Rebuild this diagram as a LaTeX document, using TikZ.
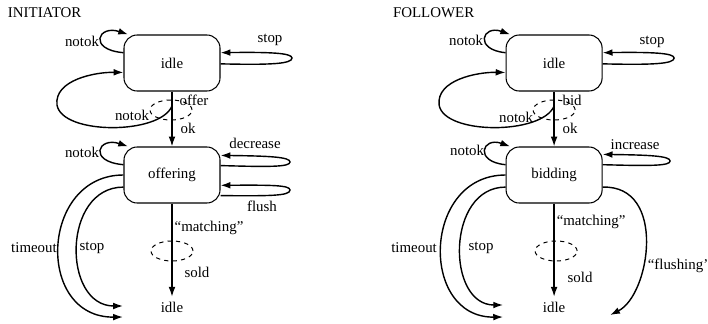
\documentclass[tikz,border=0pt]{standalone}
\usepackage{fontspec}
\setmainfont{Liberation Serif}
\usetikzlibrary{arrows.meta,shapes.geometric}

\tikzset{
  state/.style={draw,rounded corners=.33cm,minimum width=2.4cm,minimum height=1.4cm,line width=.75pt},
  arr/.style={-{Latex[length=7pt,width=4.8pt]},line width=1pt},
  choice/.style={draw,dashed,ellipse,line width=.7pt,minimum width=1.05cm,minimum height=.5cm,inner sep=0pt},
  lbl/.style={inner sep=1pt}
}

\begin{document}
\begin{tikzpicture}
  [x=0.025cm,y=-0.025cm,font=\fontsize{10.6pt}{12pt}\selectfont]
  \useasboundingbox (0,0) rectangle (708,323);

  % initiator
  \node[anchor=west] (i-title) at (3,13) {INITIATOR};
  \node[state] (i-idle) at (172,63) {idle};
  \node[state] (i-offering) at (172,175) {offering};
  \node (i-end) at (172,307) {idle};
  \node[choice] (i-c1) at (171,110) {};
  \node[choice] (i-c2) at (172,251) {};
  \coordinate (i-n) at (172,106);
  \coordinate (i-t) at (123,317);
  \coordinate (i-s) at (123,306);

  \node[lbl] (i-l1) at (82,41) {notok};
  \node[lbl] (i-l2) at (270,40) {stop};
  \node[lbl] (i-l3) at (194,100) {offer};
  \node[lbl] (i-l4) at (132,115) {notok};
  \node[lbl] (i-l5) at (188,128) {ok};
  \node[lbl] (i-l6) at (82,152) {notok};
  \node[lbl] (i-l7) at (255,143) {decrease};
  \node[lbl] (i-l8) at (262,206) {flush};
  \node[lbl] (i-l9) at (209,228) {``matching''};
  \node[lbl] (i-l10) at (197,272) {sold};
  \node[lbl] (i-l11) at (34,248) {timeout};
  \node[lbl] (i-l12) at (92,248) {stop};

  \draw[arr] (i-idle) -- (i-offering);
  \draw[arr] (i-offering) -- (i-end);
  \draw[arr] (i-idle.168) .. controls +(-36,-3) and +(-30,-10) .. (i-idle.147);
  \draw[arr] (i-offering.168) .. controls +(-36,-3) and +(-30,-10) .. (i-offering.147);
  \draw[arr] (i-idle.-1) .. controls (270,65) and (292,64) .. (292,58)
    .. controls (292,53) and (270,52) .. (i-idle.12);
  \draw[arr] (i-n) .. controls (160,135) and (62,135) .. (57,105)
    .. controls (54,80) and (95,72) .. (i-idle.191);
  \draw[arr] (i-offering.11) .. controls (270,167) and (290,167) .. (290,162)
    .. controls (290,157) and (270,156) .. (i-offering.22);
  \draw[arr] (i-offering.-23) .. controls (270,196) and (290,196) .. (290,190)
    .. controls (290,185) and (270,185) .. (i-offering.-12);
  \draw[arr] (i-offering.west) .. controls (40,175) and (35,318) .. (i-t);
  \draw[arr] (i-offering.194) .. controls (62,187) and (62,306) .. (i-s);

  % follower
  \begin{scope}[xshift=9.55cm]
    \node[anchor=west] (f-title) at (6,13) {FOLLOWER};
    \node[state] (f-idle) at (172,63) {idle};
    \node[state] (f-bidding) at (172,175) {bidding};
    \node (f-end) at (172,307) {idle};
    \node[choice] (f-c1) at (172,110) {};
    \node[choice] (f-c2) at (174,251) {};
    \coordinate (f-n) at (172,106);
    \coordinate (f-t) at (121,317);
    \coordinate (f-s) at (121,305);
    \coordinate (f-f) at (228,315);

    \node[lbl] (f-l1) at (84,40) {notok};
    \node[lbl] (f-l2) at (270,42) {stop};
    \node[lbl] (f-l3) at (190,100) {bid};
    \node[lbl] (f-l4) at (134,117) {notok};
    \node[lbl] (f-l5) at (188,128) {ok};
    \node[lbl] (f-l6) at (85,150) {notok};
    \node[lbl] (f-l7) at (253,145) {increase};
    \node[lbl] (f-l8) at (209,222) {``matching''};
    \node[lbl] (f-l9) at (198,277) {sold};
    \node[lbl] (f-l10) at (32,248) {timeout};
    \node[lbl] (f-l11) at (99,248) {stop};
    \node[lbl,anchor=west] (f-l12) at (264,266) {``flushing'};

    \draw[arr] (f-idle) -- (f-bidding);
    \draw[arr] (f-bidding) -- (f-end);
    \draw[arr] (f-idle.168) .. controls +(-32,-3) and +(-28,-10) .. (f-idle.147);
    \draw[arr] (f-bidding.168) .. controls +(-32,-3) and +(-28,-10) .. (f-bidding.147);
    \draw[arr] (f-idle.-1) .. controls (270,65) and (292,64) .. (292,58)
      .. controls (292,53) and (270,52) .. (f-idle.12);
    \draw[arr] (f-n) .. controls (160,135) and (62,135) .. (57,105)
      .. controls (54,80) and (95,72) .. (f-idle.191);
    \draw[arr] (f-bidding.12) .. controls (268,166) and (288,166) .. (288,161)
      .. controls (288,156) and (268,155) .. (f-bidding.23);
    \draw[arr] (f-bidding.west) .. controls (40,175) and (37,318) .. (f-t);
    \draw[arr] (f-bidding.194) .. controls (64,187) and (64,305) .. (f-s);
    \draw[arr] (f-bidding.-14) .. controls (285,185) and (268,295) .. (f-f);
  \end{scope}
\end{tikzpicture}
\end{document}
